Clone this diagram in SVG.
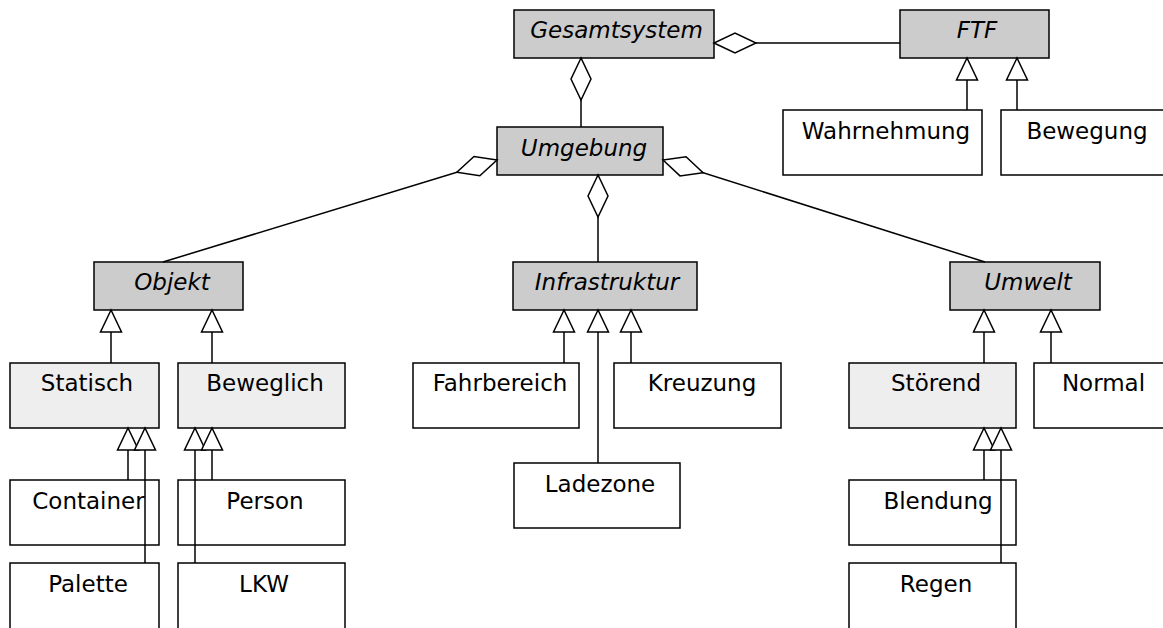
<svg xmlns="http://www.w3.org/2000/svg" width="1163" height="628" viewBox="0 0 1163 628">
<defs>
<style>
.box{stroke:#000;stroke-width:1.5}
.abs{fill:#cccccc}
.mid{fill:#eeeeee}
.leaf{fill:#ffffff}
text{font-family:"DejaVu Sans","Liberation Sans",sans-serif;font-size:23px;fill:#000;text-anchor:middle}
.it{font-style:italic}
.c line{stroke:#000;stroke-width:1.5;fill:none}
.agg{marker-end:url(#diamond)}
.gen{marker-end:url(#tri)}
</style>
<marker id="diamond" markerUnits="userSpaceOnUse" orient="auto" refX="0" refY="0" markerWidth="50" markerHeight="30" overflow="visible">
<path d="M0,0 L-21,-10 L-42,0 L-21,10 Z" fill="#fff" stroke="#000" stroke-width="1.5"/>
</marker>
<marker id="tri" markerUnits="userSpaceOnUse" orient="auto" refX="0" refY="0" markerWidth="30" markerHeight="30" overflow="visible">
<path d="M0,0 L-22,-10.5 L-22,10.5 Z" fill="#fff" stroke="#000" stroke-width="1.5"/>
</marker>
</defs>
<rect width="1163" height="628" fill="#fff"/>
<g id="Gesamtsystem"><rect class="box abs" x="514" y="10" width="200" height="48"/><text class="it" x="616.5" y="38">Gesamtsystem</text></g>
<g id="FTF"><rect class="box abs" x="900" y="10" width="149" height="48"/><text class="it" x="977" y="38">FTF</text></g>
<g id="Umgebung"><rect class="box abs" x="497" y="127" width="166" height="48"/><text class="it" x="584" y="156">Umgebung</text></g>
<g id="Wahrnehmung"><rect class="box leaf" x="783" y="110" width="199" height="65"/><text x="886" y="139">Wahrnehmung</text></g>
<g id="Bewegung"><rect class="box leaf" x="1001" y="110" width="170" height="65"/><text x="1087" y="139">Bewegung</text></g>
<g id="Objekt"><rect class="box abs" x="94" y="262" width="149" height="48"/><text class="it" x="172" y="290">Objekt</text></g>
<g id="Infrastruktur"><rect class="box abs" x="513" y="262" width="184" height="48"/><text class="it" x="607" y="290">Infrastruktur</text></g>
<g id="Umwelt"><rect class="box abs" x="950" y="262" width="150" height="48"/><text class="it" x="1028" y="290">Umwelt</text></g>
<g id="Statisch"><rect class="box mid" x="10" y="363" width="149" height="65"/><text x="87" y="391">Statisch</text></g>
<g id="Beweglich"><rect class="box mid" x="178" y="363" width="167" height="65"/><text x="265" y="391">Beweglich</text></g>
<g id="Fahrbereich"><rect class="box leaf" x="413" y="363" width="166" height="65"/><text x="500" y="391">Fahrbereich</text></g>
<g id="Kreuzung"><rect class="box leaf" x="614" y="363" width="167" height="65"/><text x="702" y="391">Kreuzung</text></g>
<g id="Stoerend"><rect class="box mid" x="849" y="363" width="167" height="65"/><text x="936" y="391">Störend</text></g>
<g id="Normal"><rect class="box leaf" x="1034" y="363" width="140" height="65"/><text x="1103.5" y="391">Normal</text></g>
<g id="Container"><rect class="box leaf" x="10" y="480" width="149" height="65"/><text x="88.5" y="508.5">Container</text></g>
<g id="Person"><rect class="box leaf" x="178" y="480" width="167" height="65"/><text x="265" y="508.5">Person</text></g>
<g id="Ladezone"><rect class="box leaf" x="514" y="463" width="166" height="65"/><text x="600" y="492">Ladezone</text></g>
<g id="Blendung"><rect class="box leaf" x="849" y="480" width="167" height="65"/><text x="938" y="508.5">Blendung</text></g>
<g id="Palette"><rect class="box leaf" x="10" y="563" width="149" height="72"/><text x="88" y="592">Palette</text></g>
<g id="LKW"><rect class="box leaf" x="178" y="563" width="167" height="72"/><text x="264" y="592">LKW</text></g>
<g id="Regen"><rect class="box leaf" x="849" y="563" width="167" height="72"/><text x="936" y="592">Regen</text></g>
<g id="connectors" class="c">
<line class="agg" x1="900" y1="43" x2="714" y2="43"/>
<line class="agg" x1="581" y1="127" x2="581" y2="58"/>
<line class="agg" x1="163" y1="262" x2="497" y2="160"/>
<line class="agg" x1="598" y1="262" x2="598" y2="175"/>
<line class="agg" x1="985" y1="262" x2="663" y2="160"/>
<line class="gen" x1="967" y1="110" x2="967" y2="58"/>
<line class="gen" x1="1017" y1="110" x2="1017" y2="58"/>
<line class="gen" x1="111" y1="363" x2="111" y2="310"/>
<line class="gen" x1="212" y1="363" x2="212" y2="310"/>
<line class="gen" x1="564" y1="363" x2="564" y2="310"/>
<line class="gen" x1="598" y1="463" x2="598" y2="310"/>
<line class="gen" x1="631" y1="363" x2="631" y2="310"/>
<line class="gen" x1="984" y1="363" x2="984" y2="310"/>
<line class="gen" x1="1051" y1="363" x2="1051" y2="310"/>
<line class="gen" x1="128" y1="480" x2="128" y2="428"/>
<line class="gen" x1="145" y1="563" x2="145" y2="428"/>
<line class="gen" x1="195" y1="563" x2="195" y2="428"/>
<line class="gen" x1="212" y1="480" x2="212" y2="428"/>
<line class="gen" x1="984" y1="480" x2="984" y2="428"/>
<line class="gen" x1="1001" y1="563" x2="1001" y2="428"/>
</g>
</svg>
